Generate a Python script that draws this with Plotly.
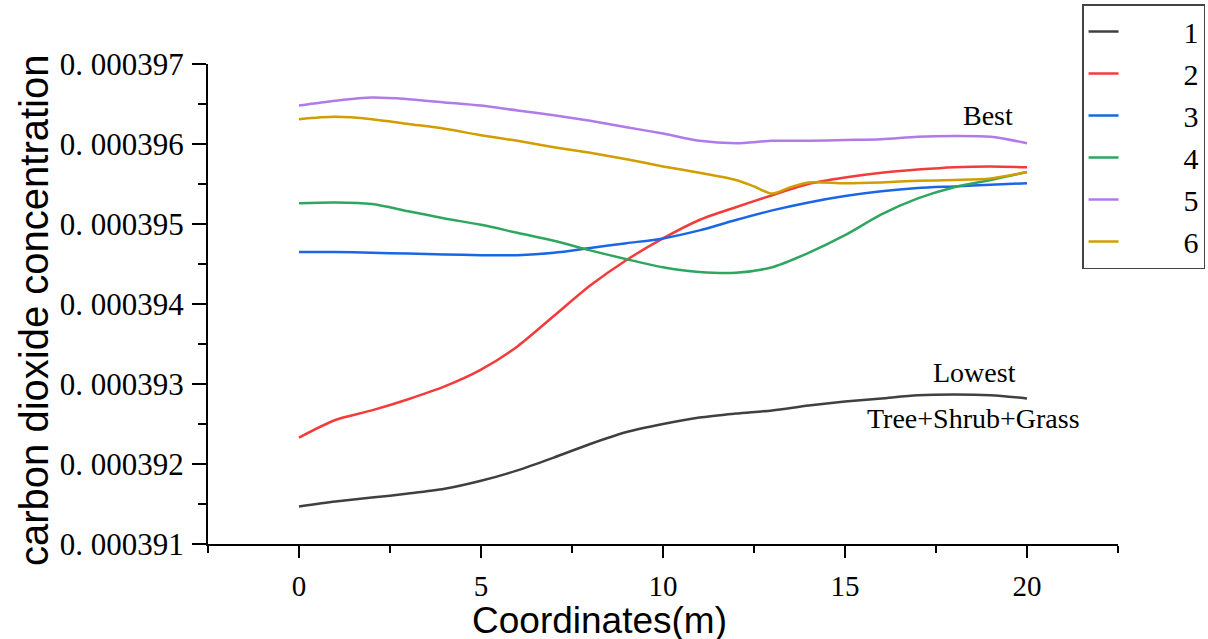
import plotly.graph_objects as go

x = list(range(0, 21))
x_gold = [0, 1, 2, 3, 4, 5, 6, 7, 8, 9, 10, 11, 12, 12.5, 13, 13.5, 14, 15, 16, 17, 18, 19, 20]

s1 = [0.00039147, 0.00039153, 0.00039158, 0.00039163, 0.00039169, 0.00039179, 0.00039192,
      0.00039208, 0.00039225, 0.00039240, 0.00039250, 0.00039258, 0.00039263, 0.00039267,
      0.00039273, 0.00039278, 0.00039282, 0.00039286, 0.00039287, 0.00039286, 0.00039282]
s2 = [0.00039233, 0.00039255, 0.00039267, 0.00039281, 0.00039297, 0.00039318, 0.00039347,
      0.00039385, 0.00039423, 0.00039455, 0.00039482, 0.00039505, 0.00039521, 0.00039536,
      0.00039550, 0.00039558, 0.00039564, 0.00039568, 0.00039571, 0.00039572, 0.00039571]
s3 = [0.00039465, 0.00039465, 0.00039464, 0.00039463, 0.00039462, 0.00039461, 0.00039461,
      0.00039464, 0.00039470, 0.00039476, 0.00039482, 0.00039492, 0.00039505, 0.00039517,
      0.00039527, 0.00039535, 0.00039541, 0.00039545, 0.00039547, 0.00039549, 0.00039551]
s4 = [0.00039526, 0.00039527, 0.00039525, 0.00039516, 0.00039507, 0.00039499, 0.00039489,
      0.00039479, 0.00039467, 0.00039456, 0.00039446, 0.00039440, 0.00039439, 0.00039446,
      0.00039464, 0.00039486, 0.00039512, 0.00039532, 0.00039546, 0.00039555, 0.00039565]
s5 = [0.00039648, 0.00039654, 0.00039658, 0.00039656, 0.00039652, 0.00039648, 0.00039642,
      0.00039636, 0.00039629, 0.00039621, 0.00039613, 0.00039604, 0.00039601, 0.00039604,
      0.00039604, 0.00039605, 0.00039606, 0.00039609, 0.00039610, 0.00039609, 0.00039601]
s6 = [0.00039631, 0.00039634, 0.00039631, 0.00039625, 0.00039619, 0.00039611, 0.00039604,
      0.00039596, 0.00039589, 0.00039581, 0.00039572, 0.00039564, 0.00039555, 0.00039547,
      0.00039538, 0.00039546, 0.00039552, 0.00039551, 0.00039552, 0.00039554, 0.00039555,
      0.00039557, 0.00039565]

names = ["1", "2", "3", "4", "5", "6"]
colors = ["#404040", "#f23c3c", "#1a66e6", "#2fa660", "#b07ae8", "#d29d00"]
series = [(x, s1), (x, s2), (x, s3), (x, s4), (x, s5), (x_gold, s6)]

ytickvals = [0.000391, 0.000392, 0.000393, 0.000394, 0.000395, 0.000396, 0.000397]
yticktext = ["0. 000391", "0. 000392", "0. 000393", "0. 000394", "0. 000395", "0. 000396", "0. 000397"]
xtickvals = [0, 5, 10, 15, 20]

notes = [("Best", 18.93, 0.00039636), ("Lowest", 18.57, 0.00039314),
         ("Tree+Shrub+Grass", 18.52, 0.000392575)]

fig = go.Figure()
for (xs, ys), n, c in zip(series, names, colors):
    fig.add_trace(go.Scatter(x=xs, y=ys, name="&nbsp;" * 8 + n, mode="lines",
                             line=dict(color=c, width=2.5, shape="spline", smoothing=0.8)))

serif = "Liberation Serif"
fig.update_layout(
    width=1208, height=639,
    margin=dict(l=208, r=90, t=64, b=95, autoexpand=False),
    plot_bgcolor="white", paper_bgcolor="white",
    showlegend=True,
    legend=dict(x=0.9605, y=1.125, xanchor="left", yanchor="top",
                bordercolor="#444444", borderwidth=1.5, bgcolor="white",
                font=dict(family=serif, size=30, color="black"),
                tracegroupgap=0),
    xaxis=dict(range=[-2.5, 22.5], tickvals=xtickvals, showgrid=False, zeroline=False,
               showline=True, linecolor="black", linewidth=2,
               ticks="outside", ticklen=12, tickwidth=2, tickcolor="black",
               ticklabelstandoff=3,
               minor=dict(dtick=2.5, tick0=-2.5, ticks="outside", ticklen=7, tickwidth=2, tickcolor="black"),
               tickfont=dict(family=serif, size=29, color="black")),
    yaxis=dict(range=[0.000391, 0.000397], tickvals=ytickvals, ticktext=yticktext,
               showgrid=False, zeroline=False,
               showline=True, linecolor="black", linewidth=2,
               ticks="outside", ticklen=14, tickwidth=2, tickcolor="black",
               ticklabelstandoff=2,
               minor=dict(dtick=0.0000005, tick0=0.000391, ticks="outside", ticklen=8, tickwidth=2, tickcolor="black"),
               tickfont=dict(family=serif, size=31, color="black")),
)

for t, ax, ay in notes:
    fig.add_annotation(x=ax, y=ay, text=t, showarrow=False,
                       font=dict(family=serif, size=28, color="black"))

fig.add_annotation(xref="paper", yref="paper", x=(599 - 208) / 910, y=(544 - 620) / 480,
                   xanchor="center", yanchor="middle",
                   text="Coordinates(m)", showarrow=False,
                   font=dict(family="Liberation Sans", size=37, color="black"))
fig.add_annotation(xref="paper", yref="paper", x=(34 - 208) / 910, y=(544 - 311) / 480,
                   xanchor="center", yanchor="middle",
                   text="carbon dioxide concentration", showarrow=False, textangle=-90,
                   font=dict(family="Liberation Sans", size=40, color="black"))

fig.write_html("out.html")
